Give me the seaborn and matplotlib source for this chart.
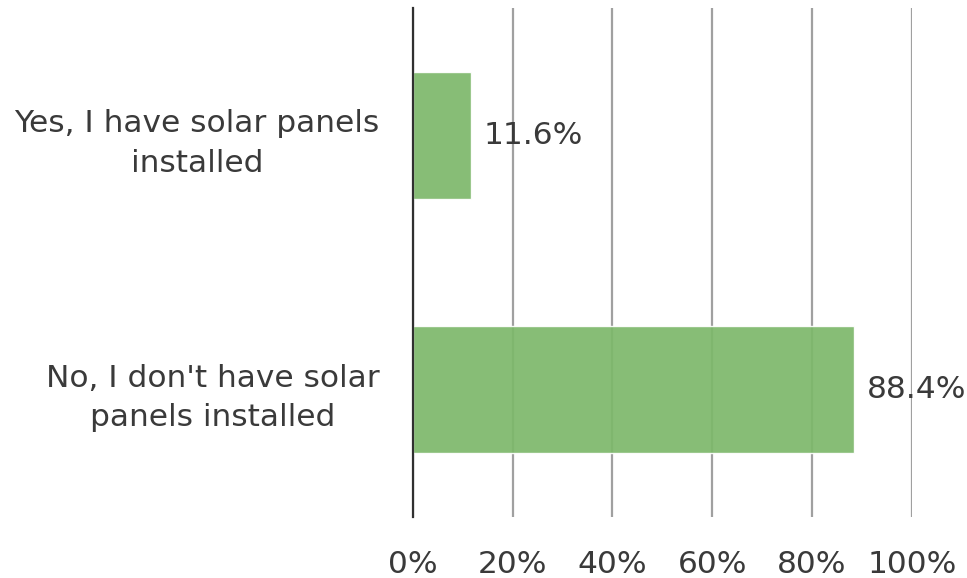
import pandas as pd
import seaborn as sns
from matplotlib import pyplot as plt
from matplotlib.ticker import PercentFormatter

categories = ["Yes, I have solar panels\ninstalled", "No, I don't have solar\npanels installed"]
shares = [11.6, 88.4]
bar_labels = ["11.6%", "88.4%"]

df = pd.DataFrame({"answer": categories, "share": shares})

sns.set_theme(style="white")
plt.rcParams["font.family"] = ["DejaVu Sans"]
text_color = "#3a3a3a"
fs = 22.5

fig = plt.figure(figsize=(9.67, 5.78), dpi=100)
ax = fig.add_axes([0.427, 0.1055, 0.516, 0.8805])

sns.barplot(data=df, x="share", y="answer", color="#7db86a", alpha=0.92,
            width=0.5, saturation=1, ax=ax, zorder=3)

ax.set_xlim(0, 100)
ax.set_ylim(1.5, -0.5)
ax.xaxis.set_major_locator(plt.MultipleLocator(20))
ax.xaxis.set_major_formatter(PercentFormatter(decimals=0))
ax.grid(axis="x", color="#a0a0a0", linewidth=1.6, zorder=1)
ax.set_axisbelow(True)

for s in ["top", "right", "bottom"]:
    ax.spines[s].set_visible(False)
ax.spines["left"].set_color("#303030")
ax.spines["left"].set_linewidth(1.6)
ax.spines["left"].set_zorder(4)

ax.tick_params(axis="x", length=0, pad=24, labelsize=fs, labelcolor=text_color)
ax.tick_params(axis="y", length=0, pad=24, labelsize=fs, labelcolor=text_color)
for lbl in ax.get_yticklabels():
    lbl.set_multialignment("center")
    lbl.set_linespacing(1.45)

ax.set_xlabel("")
ax.set_ylabel("")

for i, (v, t) in enumerate(zip(shares, bar_labels)):
    ax.annotate(t, xy=(v, i), xytext=(9, 0), textcoords="offset points",
                va="center", ha="left", fontsize=fs, color=text_color, zorder=5)

plt.savefig("out.png", dpi=100)
